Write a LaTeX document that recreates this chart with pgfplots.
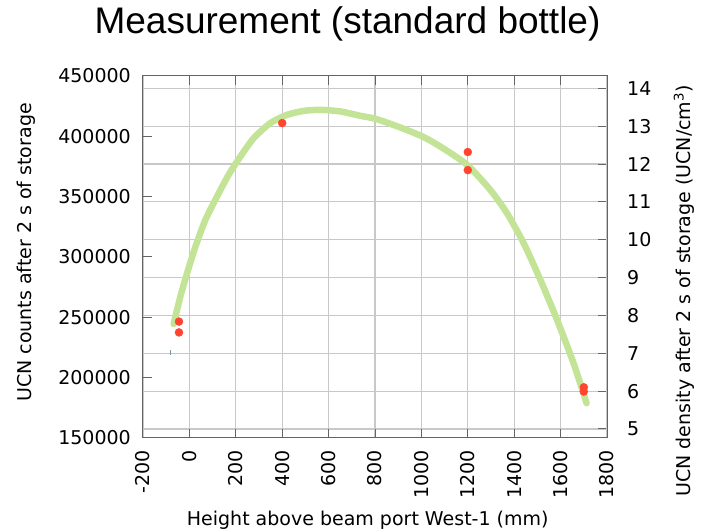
\documentclass[border=0pt]{standalone}
\usepackage{fontspec}
\setmainfont{DejaVu Sans}
\newfontfamily\titlefont{Liberation Sans}
\usepackage{pgfplots}
\pgfplotsset{compat=1.18}
\definecolor{fitgreen}{RGB}{195,228,150}
\definecolor{ptred}{RGB}{255,69,48}
\definecolor{gridgray}{RGB}{200,200,200}
\definecolor{axgray}{RGB}{100,100,100}
\begin{document}
\begin{tikzpicture}
\useasboundingbox (-143pt,-94pt) rectangle (563pt,438pt);
\pgfplotsset{common/.style={width=464pt,height=362pt,scale only axis,
  xmin=-200,xmax=1800,
  axis line style={axgray, line width=1pt},
  major tick length=9pt,
  every tick/.style={axgray, line width=1pt},
  tick align=inside,
  tick label style={font=\fontsize{19}{22}\selectfont},
  grid style={gridgray, line width=1.2pt}}}
\begin{axis}[common, ymin=4.762, ymax=14.325, ytick={5,6,7,8,9,10,11,12,13,14},
  yticklabels={5,6,7,8,9,10,11,12,13,14}, ytick pos=right,
  xtick=\empty, ymajorgrids=true,
  yticklabel style={anchor=west, inner sep=0pt, xshift=20pt}]
\end{axis}
\begin{axis}[common, ymin=150000, ymax=450000,
  ytick={150000,200000,250000,300000,350000,400000,450000},
  yticklabels={150000,200000,250000,300000,350000,400000,450000},
  scaled y ticks=false, ytick pos=left,
  xtick={-200,0,200,400,600,800,1000,1200,1400,1600,1800},
  xticklabels={-200,0,200,400,600,800,1000,1200,1400,1600,1800},
  xtick pos=both, xmajorgrids=true,
  yticklabel style={anchor=east, inner sep=0pt, xshift=-12pt},
  xticklabel style={yshift=-12pt, rotate=90, anchor=east, inner sep=0pt}]
\addplot[only marks, mark=*, mark size=4pt, color=ptred] coordinates {
(-45,246500) (-45,237500) (400,411000) (1200,387000) (1200,372000) (1700,192000) (1700,188500)};
\addplot[color={rgb,255:red,120;green,150;blue,170}, line width=1pt] coordinates {(-82,219000) (-82,223000)};
\addplot[fitgreen, line width=6.5pt, smooth, tension=0.4, line cap=round] coordinates {
(-68,244500)
(-39,267200)
(-10,286600)
(26,308600)
(69,330800)
(119,350100)
(169,368100)
(220,383300)
(277,398500)
(349,411000)
(421,417800)
(493,421100)
(565,422000)
(651,420600)
(737,417000)
(803,414500)
(900,408000)
(1003,400000)
(1082,391500)
(1197,376400)
(1297,355600)
(1369,336300)
(1441,311400)
(1513,281000)
(1585,247800)
(1656,211900)
(1712,178800)};
\end{axis}
\node[font=\titlefont\fontsize{37}{40}\selectfont, anchor=base] at (204.5pt,404.5pt) {Measurement (standard bottle)};
\node[anchor=base west, inner sep=0pt, font=\fontsize{19}{22}\selectfont] at (43.7pt,-87pt) {Height above beam port West-1 (mm)};
\node[rotate=90, anchor=base, inner sep=0pt, font=\fontsize{19}{22}\selectfont] at (-111pt,185.5pt) {UCN counts after 2 s of storage};
\node[rotate=90, anchor=base east, inner sep=0pt, font=\fontsize{19}{22}\selectfont] at (547pt,353pt) {UCN density after 2 s of storage (UCN/cm\textsuperscript{3})};
\end{tikzpicture}
\end{document}
